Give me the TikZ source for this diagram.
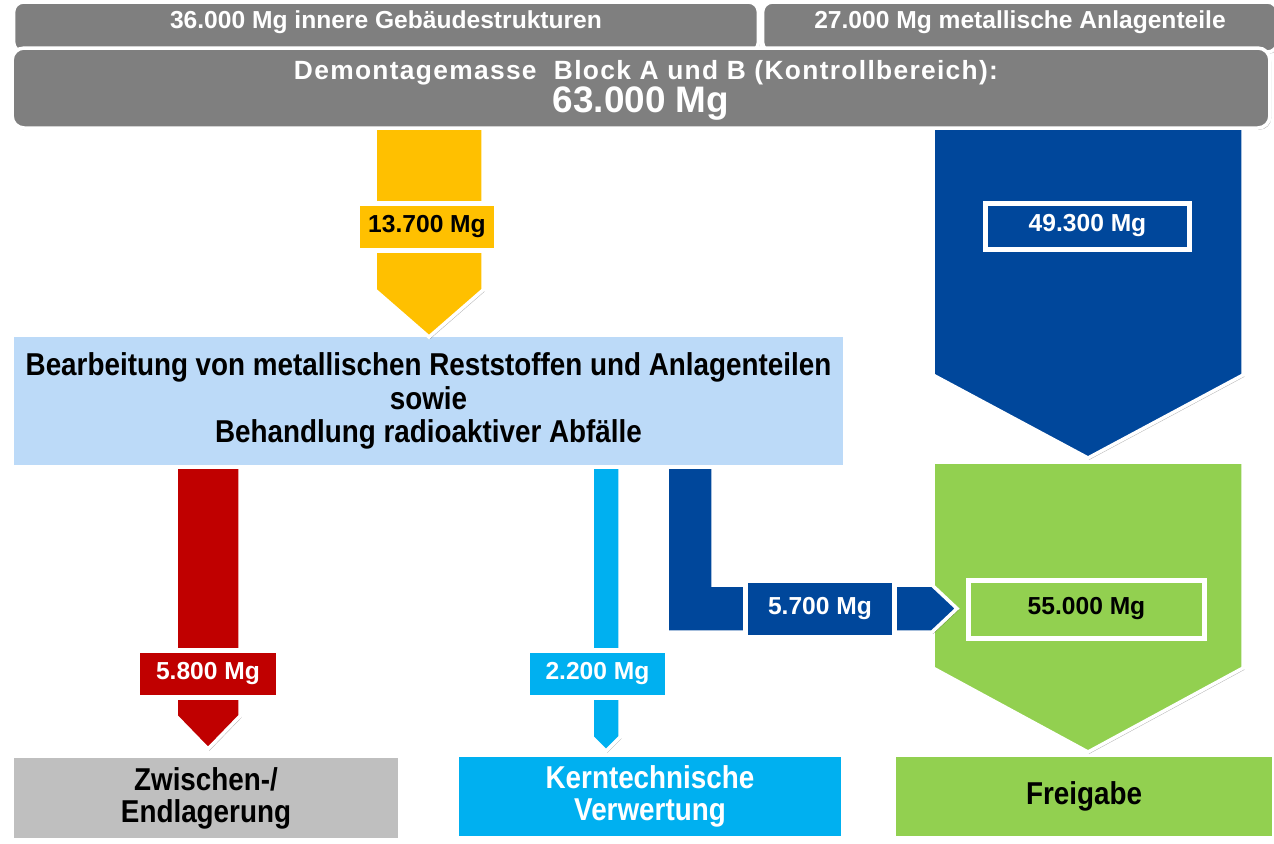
\documentclass[tikz,border=0pt]{standalone}
\usepackage{fontspec}
\setmainfont{Liberation Sans}
\newfontfamily\narrowsans[FakeStretch=0.88]{Liberation Sans}
\newfontfamily\widesans[LetterSpace=5]{Liberation Sans}
\usetikzlibrary{shadows}

\definecolor{boxgray}{HTML}{7F7F7F}
\definecolor{flowyellow}{HTML}{FFC000}
\definecolor{flowblue}{HTML}{00479B}
\definecolor{flowred}{HTML}{C00000}
\definecolor{flowcyan}{HTML}{00B0F0}
\definecolor{flowgreen}{HTML}{92D050}
\definecolor{procblue}{HTML}{BCDAF8}
\definecolor{sinkgray}{HTML}{BFBFBF}

\tikzset{
  soft/.style={drop shadow={shadow xshift=0.8pt,shadow yshift=-1pt,fill=black,opacity=0.3}},
  flow/.style={draw=white,line width=0.07cm,line join=miter,soft},
  block/.style={rectangle,draw=white,line width=0.07cm,soft,inner sep=0pt,align=center},
  tag/.style={rectangle,draw=white,line width=0.1cm,soft,inner sep=0pt,
    font=\bfseries\fontsize{14}{16}\selectfont},
  headbox/.style={block,rounded corners=0.2cm,fill=boxgray,text=white},
  headfont/.style={font=\bfseries\fontsize{14}{16}\selectfont},
  sinkfont/.style={font=\narrowsans\bfseries\fontsize{18}{18.2}\selectfont},
}

\begin{document}
\begin{tikzpicture}[x=0.02cm,y=-0.02cm]
\useasboundingbox (0,0) rectangle (1274,843);

% ---- sinks
\node[block,fill=sinkgray,minimum width=7.76cm,minimum height=1.66cm,sinkfont] (lager) at (206,798)
  {Zwischen-/\\Endlagerung};
\node[block,fill=flowcyan,text=white,minimum width=7.72cm,minimum height=1.66cm,sinkfont] (verwert) at (650,796.5)
  {Kerntechnische\\Verwertung};
\node[block,fill=flowgreen,minimum width=7.6cm,minimum height=1.66cm,sinkfont] (frei) at (1084,796.5)
  {Freigabe};

% ---- processing
\node[block,fill=procblue,minimum width=16.66cm,minimum height=2.64cm,
      font=\narrowsans\bfseries\fontsize{18}{19.2}\selectfont]
  (proc) at (428.5,401)
  {Bearbeitung von metallischen Reststoffen und Anlagenteilen\\sowie\\Behandlung radioaktiver Abfälle};

% ---- release flow and the big blue flow above it
\path[flow,fill=flowgreen] (933,462) -- (1243,462) -- (1243,668) -- (1088,752) -- (933,668) -- cycle;
\path[flow,fill=flowblue] (933,120) -- (1243,120) -- (1243,375) -- (1088,458) -- (933,375) -- cycle;

% ---- yellow flow into processing
\path[flow,fill=flowyellow] (375,120) -- (483,120) -- (483,290) -- (429,337) -- (375,290) -- cycle;

% ---- header
\node[headbox,minimum width=14.9cm,minimum height=1.0cm] (innen) at (386,27) {};
\node[headbox,minimum width=10.3cm,minimum height=1.0cm] (metall) at (1020,27) {};
\node[text=white,headfont] (innentxt) at (386,22) {36.000 Mg innere Gebäudestrukturen};
\node[text=white,headfont] (metalltxt) at (1020,22) {27.000 Mg metallische Anlagenteile};

\node[headbox,rounded corners=0.24cm,minimum width=25.16cm,minimum height=1.6cm] (gesamt) at (641,88) {};
\node[text=white,font=\widesans\bfseries\fontsize{15}{17}\selectfont] (gesamt1) at (646,73)
  {Demontagemasse\ \ Block A und B (Kontrollbereich):};
\node[text=white,font=\bfseries\fontsize{21}{23}\selectfont] (gesamt2) at (641,104) {63.000 Mg};

% ---- lower flows out of the processing box
\path[flow,fill=flowred] (176,467) -- (240,467) -- (240,716) -- (208,749) -- (176,716) -- cycle;
\path[flow,fill=flowcyan] (592,467) -- (620,467) -- (620,737) -- (606,751) -- (592,737) -- cycle;
\path[flow,fill=flowblue] (667,467) -- (713,467) -- (713,585) -- (932,585) -- (957,608.5) -- (932,632) -- (667,632) -- cycle;

% ---- quantity tags
\node[tag,fill=flowyellow,minimum width=2.8cm,minimum height=0.94cm] (m137) at (427,226.5) {13.700 Mg};
\node[tag,fill=flowblue,text=white,minimum width=4.1cm,minimum height=0.92cm] (m493) at (1087.5,226) {49.300 Mg};
\node[tag,fill=flowred,text=white,minimum width=2.84cm,minimum height=0.94cm] (m58) at (208,673.5) {5.800 Mg};
\node[tag,fill=flowcyan,text=white,minimum width=2.82cm,minimum height=0.94cm] (m22) at (597.5,673.5) {2.200 Mg};
\node[tag,fill=flowblue,text=white,minimum width=3.0cm,minimum height=1.14cm] (m57) at (820,608.5) {5.700 Mg};
\node[tag,fill=flowgreen,minimum width=4.74cm,minimum height=1.16cm] (m55) at (1086.5,609) {55.000 Mg};
\end{tikzpicture}
\end{document}
